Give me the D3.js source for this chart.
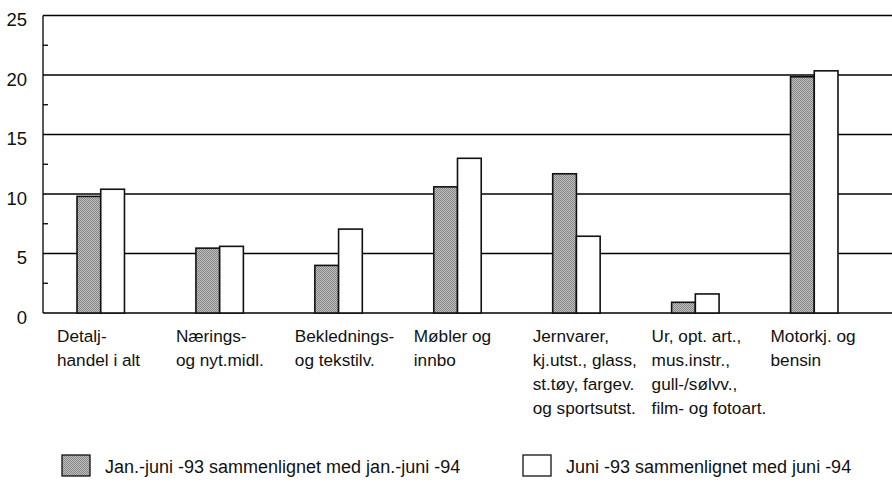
<!DOCTYPE html>
<html><head><meta charset="utf-8">
<script src="https://cdn.jsdelivr.net/npm/d3@7/dist/d3.min.js"></script>
<style>body{margin:0;background:#fff;} svg{display:block;}</style>
</head><body>
<svg id="c" width="892" height="489"></svg>
<script>
const categories = [
  ["Detalj-","handel i alt"],
  ["Nærings-","og nyt.midl."],
  ["Beklednings-","og tekstilv."],
  ["Møbler og","innbo"],
  ["Jernvarer,","kj.utst., glass,","st.tøy, fargev.","og sportsutst."],
  ["Ur, opt. art.,","mus.instr.,","gull-/sølvv.,","film- og fotoart."],
  ["Motorkj. og","bensin"]
];
const seriesNames = ["Jan.-juni -93 sammenlignet med jan.-juni -94","Juni -93 sammenlignet med juni -94"];
const janJuni = [9.8, 5.45, 4.0, 10.6, 11.7, 0.9, 19.85];
const juni = [10.4, 5.6, 7.05, 13.0, 6.45, 1.6, 20.35];
const yTicks = [0,5,10,15,20,25];
const yMinorTicks = [2.5,7.5,12.5,17.5,22.5];

(function(){
const svg = d3.select("#c");
const font = "'Liberation Sans', Arial, Helvetica, sans-serif";
const defs = svg.append("defs");
const pat = defs.append("pattern").attr("id","dither").attr("width",2).attr("height",2).attr("patternUnits","userSpaceOnUse");
pat.append("rect").attr("width",2).attr("height",2).attr("fill","#c0c0c0");
pat.append("rect").attr("width",1).attr("height",1).attr("fill","#858585");
pat.append("rect").attr("x",1).attr("y",1).attr("width",1).attr("height",1).attr("fill","#858585");

const mLeft = 43, mRight = 892, mTop = 15.5, mBottom = 313;
const y = d3.scaleLinear().domain([0,25]).range([mBottom, mTop]);
const idx = categories.map((d,i)=>i);
const x = d3.scaleBand().domain(idx).range([mLeft, 872]).paddingInner(0.601).paddingOuter(0.286);
const xs = d3.scaleBand().domain([0,1]).range([0, x.bandwidth()]);

svg.append("g").selectAll("line").data(yTicks).join("line")
  .attr("x1",mLeft).attr("x2",mRight).attr("y1",d=>y(d)).attr("y2",d=>y(d))
  .attr("stroke","#000").attr("stroke-width",1.3);
svg.append("line").attr("x1",mLeft).attr("x2",mLeft).attr("y1",y(25)).attr("y2",y(0)).attr("stroke","#000").attr("stroke-width",1.3);
svg.append("g").selectAll("line").data(yMinorTicks).join("line")
  .attr("x1",mLeft).attr("x2",mLeft+5).attr("y1",d=>y(d)).attr("y2",d=>y(d))
  .attr("stroke","#000").attr("stroke-width",1.3);
svg.append("g").selectAll("text").data(yTicks).join("text")
  .attr("x",27).attr("y",d=>y(d)+10.5).attr("text-anchor","end")
  .attr("font-family",font).attr("font-size",18.5).attr("fill","#111").text(d=>d);

const series = [janJuni, juni];
series.forEach((vals, s) => {
  svg.append("g").selectAll("rect").data(vals).join("rect")
    .attr("x",(d,i)=>x(i)+xs(s)).attr("width",xs.bandwidth())
    .attr("y",d=>y(d)).attr("height",d=>y(0)-y(d))
    .attr("fill", s===0 ? "url(#dither)" : "#fff")
    .attr("stroke","#111").attr("stroke-width",1.6);
});

const lab = svg.append("g");
categories.forEach((lines,i)=>{
  const t = lab.append("text").attr("font-family",font).attr("font-size",17.2).attr("fill","#111");
  lines.forEach((ln,j)=>{
    t.append("tspan").attr("x",x(i)-20).attr("y",342+j*24).text(ln);
  });
});

const legX = [62, 523];
seriesNames.forEach((n,s)=>{
  svg.append("rect").attr("x",legX[s]).attr("y",455).attr("width",28).attr("height",21)
    .attr("fill", s===0 ? "url(#dither)" : "#fff").attr("stroke","#111").attr("stroke-width",1.3);
  svg.append("text").attr("x",legX[s]+43).attr("y",473).attr("font-family",font).attr("font-size",18)
    .attr("fill","#111").text(n);
});
})();
</script>
</body></html>
